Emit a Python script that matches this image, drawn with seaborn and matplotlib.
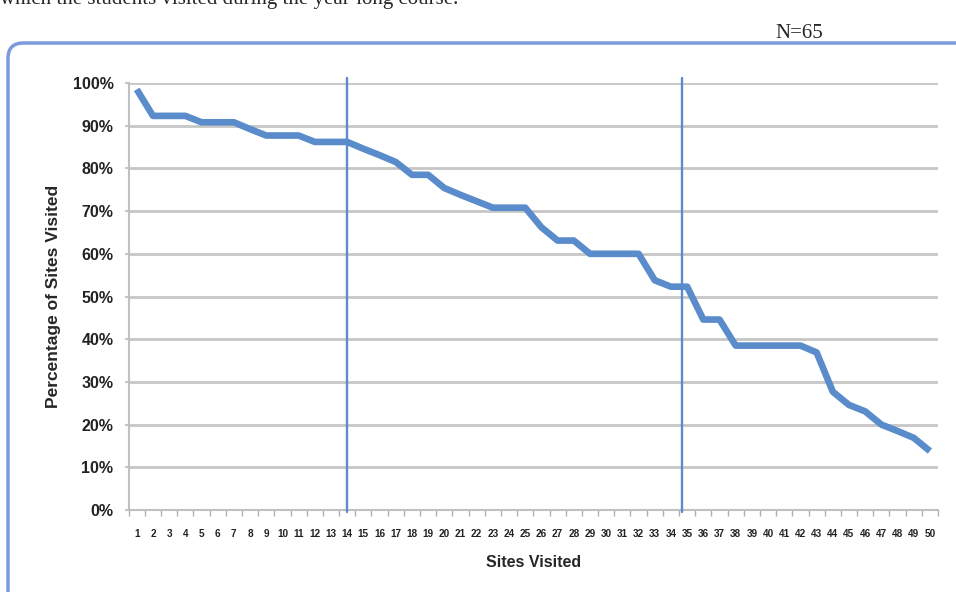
import numpy as np
import pandas as pd
import seaborn as sns
from matplotlib import pyplot as plt
from matplotlib.patches import FancyBboxPatch

# date (procent din N=65)
sites = list(range(1, 51))
pct = [98.5, 92.3, 92.3, 92.3, 90.8, 90.8, 90.8, 89.2, 87.7, 87.7,
       87.7, 86.2, 86.2, 86.2, 84.6, 83.1, 81.5, 78.5, 78.5, 75.4,
       73.8, 72.3, 70.8, 70.8, 70.8, 66.2, 63.1, 63.1, 60.0, 60.0,
       60.0, 60.0, 53.8, 52.3, 52.3, 44.6, 44.6, 38.5, 38.5, 38.5,
       38.5, 38.5, 36.9, 27.7, 24.6, 23.1, 20.0, 18.5, 16.9, 13.8]
yticks = [0, 10, 20, 30, 40, 50, 60, 70, 80, 90, 100]
ytick_labels = [f"{v}%" for v in yticks]
cut_lines = [14, 34.7]

df = pd.DataFrame({"Sites Visited": sites, "Percentage": pct})

sns.set_style("white")
plt.rcParams['font.family'] = ['Liberation Sans', 'DejaVu Sans']

fig = plt.figure(figsize=(9.56, 5.92), dpi=100)
ax = fig.add_axes([0.1346, 0.1385, 0.8466, 0.7213])

blue = '#5a8ccb'
sns.lineplot(data=df, x="Sites Visited", y="Percentage", ax=ax,
             color=blue, linewidth=4.8, solid_capstyle='butt', zorder=3)

for xv in cut_lines:
    ax.axvline(xv, ymin=-0.005, ymax=1.012, color=blue, linewidth=1.7,
               clip_on=False, zorder=4)

ax.set_xlim(0.5, 50.5)
ax.set_ylim(0, 100)
ax.set_yticks(yticks)
ax.set_yticklabels(ytick_labels, fontsize=11.5, fontweight='bold', color='#222222')
ax.set_xticks(sites)
ax.set_xticklabels([str(s) for s in sites], fontsize=7.2, fontweight='bold', color='#222222',
                   family=['Liberation Sans Narrow', 'Liberation Sans', 'DejaVu Sans'])
ax.set_xticks(np.arange(0.5, 51, 1), minor=True)

ax.grid(axis='y', color='#c6c6c6', linewidth=2.0, zorder=1)
ax.tick_params(axis='y', length=3, width=1.5, color='#c6c6c6', pad=8, left=True)
ax.tick_params(axis='x', which='major', length=0, pad=14)
ax.tick_params(axis='x', which='minor', length=4, width=1.0, color='#b0b0b0', bottom=True)

for s in ['top', 'right']:
    ax.spines[s].set_visible(False)
ax.spines['left'].set_color('#c0c0c0')
ax.spines['left'].set_linewidth(1.5)
ax.spines['bottom'].set_color('#c0c0c0')
ax.spines['bottom'].set_linewidth(1.5)

ax.set_xlabel("Sites Visited", fontsize=11.5, fontweight='bold', labelpad=11)
ax.set_ylabel("Percentage of Sites Visited", fontsize=12.5, fontweight='bold', labelpad=8)

# chenarul rotunjit al graficului
frame = FancyBboxPatch((8 / 956, -0.1), 1.2, 0.1 + (592 - 43) / 592,
                       boxstyle="round,pad=0,rounding_size=0.016",
                       mutation_aspect=956 / 592, transform=fig.transFigure,
                       facecolor='none', edgecolor='#7b9bdc', linewidth=2.5,
                       zorder=0)
fig.patches.append(frame)

fig.text(0.0, (592 - 4) / 592, "which the students visited during the year-long course.",
         fontsize=15, family=['Liberation Serif', 'DejaVu Serif'], va='baseline')
fig.text(775 / 956, (592 - 38) / 592, "N=65",
         fontsize=15, family=['Liberation Serif', 'DejaVu Serif'], va='baseline')

fig.savefig("out.png", dpi=100)
